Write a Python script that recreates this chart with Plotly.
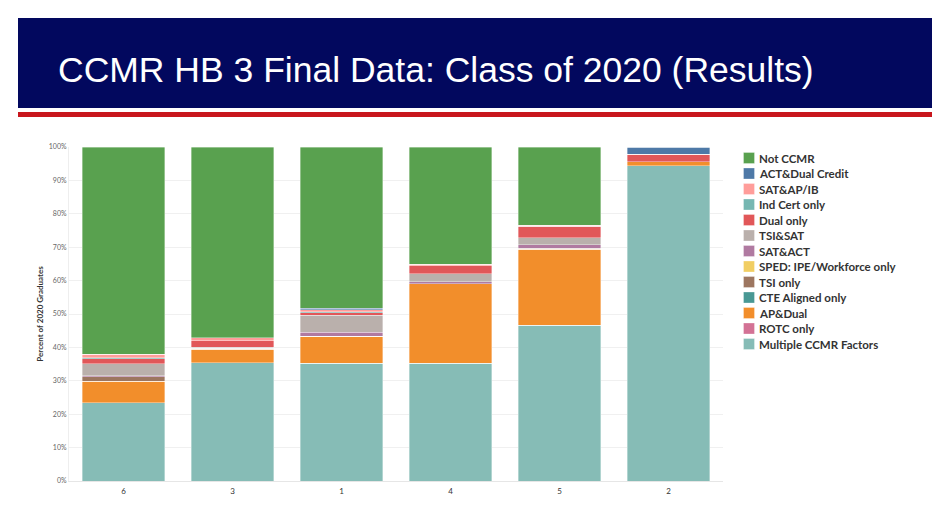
import plotly.graph_objects as go

categories = ["6", "3", "1", "4", "5", "2"]

# values in percent of 2020 graduates (stack order bottom -> top)
multiple_ccmr = [23.5, 35.4, 35.2, 35.3, 46.6, 94.4]
rotc_only = [0, 0, 0, 0, 0, 0]
ap_dual = [6.3, 4.1, 8.2, 23.7, 22.8, 1.2]
cte_aligned = [0, 0, 0, 0, 0, 0]
tsi_only = [1.4, 0.2, 0, 0, 0.3, 0]
sped = [0, 0, 0, 0, 0, 0]
sat_act = [0.3, 0, 1.1, 0.7, 1.0, 0]
tsi_sat = [3.6, 0.3, 5.2, 2.3, 2.2, 0]
dual_only = [1.5, 2.0, 0.7, 2.4, 3.3, 2.3]
ind_cert = [0.3, 0, 0.3, 0, 0, 0]
sat_ap_ib = [1.0, 0.9, 0.6, 0.5, 0.3, 0]
act_dual = [0, 0, 0.4, 0, 0.1, 2.1]
not_ccmr = [62.1, 57.1, 48.3, 35.1, 23.4, 0]

series = [
    ("Multiple CCMR Factors", multiple_ccmr, "#86BCB6"),
    ("ROTC only", rotc_only, "#D37295"),
    ("AP&Dual", ap_dual, "#F28E2B"),
    ("CTE Aligned only", cte_aligned, "#499894"),
    ("TSI only", tsi_only, "#9D7660"),
    ("SPED: IPE/Workforce only", sped, "#F1CE63"),
    ("SAT&ACT", sat_act, "#B07AA1"),
    ("TSI&SAT", tsi_sat, "#BAB0AC"),
    ("Dual only", dual_only, "#E15759"),
    ("Ind Cert only", ind_cert, "#76B7B2"),
    ("SAT&AP/IB", sat_ap_ib, "#FF9D9A"),
    ("ACT&Dual Credit", act_dual, "#4E79A7"),
    ("Not CCMR", not_ccmr, "#59A14F"),
]

fig = go.Figure()
for name, vals, color in series:
    fig.add_trace(go.Bar(
        x=categories, y=vals, name=name,
        marker=dict(color=color, line=dict(color="rgba(255,255,255,0.45)", width=0.8)),
        showlegend=False,
    ))

# page offset (browser body margin)
OFF = 8
# plot area in page pixels: left 69, right 723, top 147, bottom 481
L, R, T, B = 69 - OFF, 723 - OFF, 147 - OFF, 481 - OFF
W, H = 950, 515
def px_x(p):
    return (p - OFF - L) / (R - L)
def px_y(p):
    return (B - (p - OFF)) / (B - T)

shapes = []
annotations = []

# banner
shapes.append(dict(type="rect", xref="paper", yref="paper",
                   x0=px_x(18), x1=px_x(932), y0=px_y(108), y1=px_y(18),
                   fillcolor="#02085E", line=dict(width=0), layer="above"))
shapes.append(dict(type="rect", xref="paper", yref="paper",
                   x0=px_x(18), x1=px_x(932), y0=px_y(117), y1=px_y(112),
                   fillcolor="#C8161D", line=dict(width=0), layer="above"))
annotations.append(dict(text="CCMR HB 3 Final Data: Class of 2020 (Results)",
                        xref="paper", yref="paper", x=px_x(56), y=px_y(70),
                        xanchor="left", yanchor="middle", showarrow=False,
                        font=dict(family="Liberation Sans, Arial", size=35.5, color="white")))

# legend (top to bottom)
for i, (name, vals, color) in enumerate(reversed(series)):
    cy = 158 + i * 15.5
    shapes.append(dict(type="rect", xref="paper", yref="paper",
                       x0=px_x(743.5), x1=px_x(754.5), y0=px_y(cy + 5.5), y1=px_y(cy - 5.5),
                       fillcolor=color, line=dict(color="rgba(255,255,255,0.6)", width=0.5)))
    annotations.append(dict(text="<b>%s</b>" % name, xref="paper", yref="paper",
                            x=px_x(757), y=px_y(cy), xanchor="left", yanchor="middle",
                            showarrow=False,
                            font=dict(family="Lato, Open Sans", size=11.5, color="#333333")))

fig.update_layout(
    width=W, height=H,
    barmode="stack", bargap=0.24,
    paper_bgcolor="white", plot_bgcolor="white",
    margin=dict(l=L, r=W - R, t=T, b=H - B, autoexpand=False),
    shapes=shapes, annotations=annotations,
    showlegend=False,
    xaxis=dict(
        type="category", showgrid=False, zeroline=False,
        showline=True, linecolor="#e6e6e6", linewidth=1,
        tickfont=dict(family="Lato, Open Sans", size=8, color="#333333"),
        ticks="", ticklabelstandoff=2,
    ),
    yaxis=dict(
        range=[0, 100], dtick=10, ticksuffix="%",
        showgrid=True, gridcolor="#f0f0f0", gridwidth=1,
        zeroline=False, showline=True, linecolor="#eeeeee", linewidth=1,
        tickfont=dict(family="Lato, Open Sans", size=7, color="#666666"),
        title=dict(text="<b>Percent of 2020 Graduates</b>", standoff=4,
                   font=dict(family="Lato, Open Sans", size=8, color="#333333")),
        automargin=False,
    ),
)

fig.write_html("out.html")
